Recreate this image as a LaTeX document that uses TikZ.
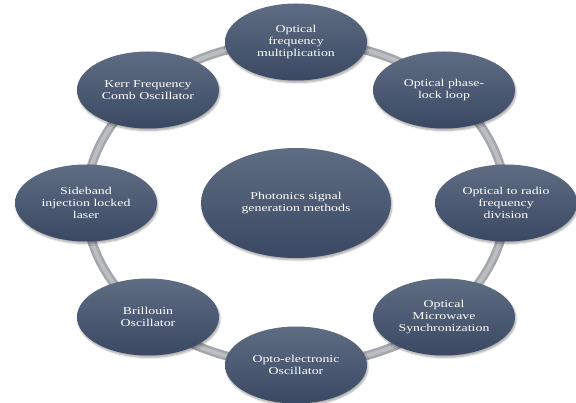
\documentclass[tikz,border=0pt]{standalone}
\usepackage{fontspec}
\setmainfont[FakeStretch=1.32]{Liberation Serif}
\usetikzlibrary{shapes.geometric,shadows.blur,backgrounds}
\definecolor{ovaltop}{HTML}{5E6D83}
\definecolor{ovalbot}{HTML}{3A4863}
\definecolor{ringgray}{HTML}{A3A6AB}
\definecolor{ringlight}{HTML}{BCBEC2}
\begin{document}
\begin{tikzpicture}[x=1pt,y=-1pt,
  oval/.style={ellipse, minimum width=142pt, minimum height=77pt, inner sep=0pt,
    top color=ovaltop, bottom color=ovalbot, text=white, align=center,
    font=\fontsize{10.5}{12}\selectfont,
    blur shadow={shadow xshift=1pt, shadow yshift=-2pt, shadow blur steps=6, shadow opacity=35}},
  hubstyle/.style={oval, minimum width=190pt, minimum height=110pt}]
  \useasboundingbox (0,0) rectangle (576,403);
  % central topic
  \node[hubstyle] (hub) at (296,203) {Photonics signal\\generation methods};
  % methods placed around the ring
  \node[oval] (mult)  at (296,42)  {Optical\\frequency\\multiplication};
  \node[oval] (pll)   at (444,90)  {Optical phase-\\lock loop};
  \node[oval] (div)   at (506,203) {Optical to radio\\frequency\\division};
  \node[oval] (sync)  at (444,317) {Optical\\Microwave\\Synchronization};
  \node[oval] (oeo)   at (296,365) {Opto-electronic\\Oscillator};
  \node[oval] (bril)  at (148,317) {Brillouin\\Oscillator};
  \node[oval] (side)  at (86,203)  {Sideband\\injection locked\\laser};
  \node[oval] (kerr)  at (148,90)  {Kerr Frequency\\Comb Oscillator};
  % ring linking the methods
  \begin{scope}[on background layer]
    \draw[ringgray, line width=9pt] (hub.center) ellipse [x radius=210, y radius=162];
    \draw[ringlight, line width=4pt] (hub.center) ellipse [x radius=210, y radius=162];
  \end{scope}
\end{tikzpicture}
\end{document}
